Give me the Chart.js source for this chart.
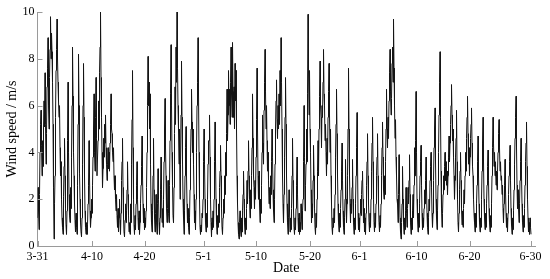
<!DOCTYPE html>
<html><head><meta charset="utf-8">
<script src="https://cdn.jsdelivr.net/npm/chart.js@4"></script>
<style>html,body{margin:0;padding:0;background:#fff}canvas{display:block}</style>
</head><body>
<canvas id="c" width="550" height="279" style="width:550px;height:279px"></canvas>
<script>
// Wind speed (m/s), sampled left to right through the record (3-31 .. 6-30)
const wind1 = [
1.2,2.5,1.5,0.7,2.2,4.0,5.2,5.8,4.3,3.0,4.5,3.4,5.0,6.2,5.1,7.4,5.2,3.5,4.8,6.8,
7.6,8.9,6.0,5.0,7.2,8.4,9.8,8.0,9.1,8.3,7.0,5.2,2.5,0.3,1.8,3.0,5.5,7.5,8.4,9.7,
8.0,7.0,6.2,5.5,6.0,4.2,3.0,3.6,2.0,1.2,0.8,0.5,2.1,3.4,4.6,3.0,1.6,0.9,0.5,1.5,
4.5,7.0,4.0,2.2,1.3,1.0,2.5,1.6,3.8,6.0,8.5,6.4,4.0,3.0,1.8,1.1,0.6,1.4,0.8,0.5,
2.6,5.2,8.2,6.0,3.1,2.0,1.0,0.6,0.4,1.2,3.5,6.0,7.8,5.5,3.0,1.5,0.8,0.5,1.0,0.5,
0.9,1.8,2.6,4.5,3.0,1.5,0.8,1.2,2.0,1.4,2.6,3.8,5.0,6.5,4.0,3.2,5.5,7.2,4.6,3.0,
3.0,4.5,6.2,5.0,7.4,8.5,10.0,7.2,5.5,4.0,2.5,3.3,4.6,3.8,5.2,4.4,5.6,4.2,3.5,2.8,
3.5,4.2,3.3,4.0,3.2,4.4,5.2,6.5,5.0,4.8,4.0,3.6,4.2,3.0,2.4,3.0,2.0,1.5,2.2,1.3,
0.8,1.6,0.6,1.2,2.0,1.1,0.5,1.4,2.8,3.6,4.6,2.5,1.2,0.6,0.4,1.1,1.8,1.0,1.5,2.4,
3.6,2.2,1.3,0.6,1.0,0.5,1.8,1.0,3.5,5.4,7.5,4.2,2.0,0.9,0.5,1.3,0.7,1.8,2.6,3.6
];
const wind2 = [
2.0,1.2,0.7,1.5,0.5,1.0,1.8,2.6,3.4,4.7,3.0,1.8,1.0,1.6,0.7,1.2,0.8,1.5,2.5,4.0,
6.0,8.1,6.0,7.0,5.0,6.5,3.5,1.8,1.0,0.6,1.5,3.0,4.6,2.4,1.2,0.6,1.4,2.2,1.0,0.5,
1.8,3.3,2.0,1.0,0.5,1.2,2.4,3.8,2.2,1.0,1.6,0.8,2.0,3.6,5.0,6.3,4.2,3.0,1.6,1.0,
1.6,2.8,1.4,1.0,2.6,4.5,6.5,8.6,6.0,4.0,2.6,1.3,1.0,2.5,4.8,6.8,5.2,8.5,7.0,10.0,
7.6,6.0,5.0,3.5,5.0,2.0,3.5,5.6,7.9,5.5,3.6,2.0,1.2,0.5,1.5,3.0,4.2,5.1,3.0,1.8,
1.0,1.6,0.8,0.5,1.2,2.4,3.8,5.0,6.7,5.3,4.0,5.0,3.5,2.2,1.0,1.5,0.7,2.0,4.0,6.0,
7.0,8.9,6.5,4.0,2.0,0.8,0.5,0.9,0.6,1.4,1.2,2.0,3.6,5.0,3.5,2.0,1.0,0.6,1.4,0.8,2.0,3.5,4.5,
4.5,5.6,3.8,2.0,1.0,0.4,1.2,0.7,1.5,0.8,2.0,3.6,5.3,3.6,2.0,1.0,0.5,1.3,0.8,1.8,
1.0,2.5,3.2,4.3,3.0,1.6,0.8,0.5,1.2,2.0,1.4,3.0,2.2,4.0,3.0,4.8,6.7,4.5,5.6,7.5,
6.0,6.7,5.2,7.0,8.5,6.5,5.5,8.7,6.6,5.5,6.8,5.0,7.8,6.2,7.5,5.0,3.0,1.8,1.0,0.5
];
const wind3 = [
0.3,1.0,1.5,0.7,0.4,1.2,0.6,1.5,2.2,3.2,2.0,1.0,0.5,1.2,0.7,1.6,2.8,1.8,3.2,4.5,
3.0,2.0,1.2,2.4,1.6,3.0,4.2,6.5,4.6,3.0,2.5,1.6,2.8,2.0,3.8,5.4,7.6,5.0,3.0,2.0,
3.2,1.8,1.0,2.0,1.4,2.6,4.0,5.6,4.4,3.5,5.8,7.0,8.4,6.6,5.0,6.0,4.5,3.2,4.0,2.8,
1.8,2.5,1.6,3.0,2.2,3.6,5.0,3.8,2.4,1.5,1.0,2.0,3.5,5.0,6.2,7.1,5.4,4.6,6.0,5.0,
6.5,5.2,7.5,6.0,8.9,7.0,5.0,3.0,1.8,1.0,2.2,3.8,5.5,7.2,5.2,3.0,1.8,1.0,0.5,1.2,
2.4,1.5,0.6,1.2,0.7,1.6,3.0,4.6,2.8,1.5,0.8,0.5,1.2,0.7,1.6,2.6,3.8,2.2,1.2,0.6,
1.4,0.5,1.0,0.6,1.8,1.2,0.7,1.5,2.0,3.6,6.0,3.8,1.5,2.6,3.5,5.0,3.6,6.5,9.9,7.5,5.6,7.5,
5.0,4.0,2.4,1.0,1.8,1.2,2.8,4.3,3.0,1.6,0.8,0.5,1.4,0.8,2.0,3.2,4.5,3.0,5.0,6.4,
7.9,6.0,5.5,4.2,6.0,5.5,7.0,8.4,6.5,6.0,4.5,5.2,4.0,3.0,4.6,3.5,5.5,6.6,7.8,5.6,
4.0,5.0,3.0,1.8,0.8,0.5,1.2,0.8,1.6,1.0,2.2,3.8,5.2,6.7,4.8,3.0,1.8,1.0,0.6,1.4
];
const wind4 = [
0.8,1.6,2.4,3.2,4.4,2.8,1.5,0.8,0.5,1.2,2.0,3.7,2.0,1.0,1.8,3.0,5.0,7.6,5.0,3.0,
1.8,1.0,2.0,1.4,2.5,3.7,2.0,1.0,0.5,1.2,0.7,1.8,3.0,4.2,5.7,3.6,
1.4,0.7,1.2,0.6,1.4,2.0,1.3,2.2,2.8,3.2,2.0,1.0,1.6,0.6,1.2,0.5,1.4,2.6,3.6,
4.8,3.0,1.8,1.0,0.6,1.4,0.8,2.0,3.2,4.4,5.5,3.6,2.0,1.0,0.6,1.4,0.8,1.8,3.0,3.8,
4.8,3.0,1.8,1.0,0.6,1.3,0.8,1.8,3.0,4.2,5.3,3.8,2.4,2.0,3.0,2.2,3.6,5.0,6.7,5.0,
4.2,5.5,4.6,6.2,7.4,8.4,6.6,5.6,6.3,7.8,8.5,7.0,9.7,7.6,6.0,4.6,5.4,3.8,3.0,2.0,
1.8,1.0,2.2,3.9,2.4,1.2,0.6,0.3,1.0,1.8,3.4,2.0,1.0,0.5,1.2,0.7,1.5,2.5,1.4,0.8,
1.6,2.5,1.8,2.8,3.9,2.2,1.0,0.5,1.2,0.7,1.5,2.2,1.2,2.6,4.2,3.0,4.5,6.6,4.0,2.0,
1.2,0.6,1.4,0.8,1.8,3.0,3.6,4.3,2.6,1.4,0.7,1.2,0.8,1.6,2.4,1.8,2.8,3.8,2.4,1.4,
0.8,0.5,1.2,2.0,1.5,2.8,3.4,4.0,2.5,1.4,0.8,1.4,2.8,4.2,5.0,5.9,3.6,2.0,1.2,0.7
];
const wind5 = [
1.5,2.6,4.0,5.6,7.0,8.3,5.5,3.2,1.6,0.8,1.4,2.2,3.0,2.4,3.4,4.0,2.8,3.6,2.6,3.2,
2.2,3.0,3.8,4.7,3.6,4.4,5.2,6.0,6.9,5.6,4.5,5.0,3.8,3.0,2.0,2.8,3.8,4.6,5.8,3.6,
2.0,1.0,0.6,1.4,2.4,3.2,4.0,2.8,1.6,0.9,1.5,0.8,1.6,2.4,1.8,3.0,4.0,3.2,4.6,5.5,
6.4,4.8,3.5,4.2,3.0,3.8,4.6,5.2,5.9,4.4,3.4,3.0,2.0,1.4,1.0,0.6,1.4,0.8,1.8,2.6,
3.6,4.7,3.0,1.8,1.0,0.6,1.2,0.8,2.0,3.2,4.4,5.5,3.6,2.0,1.2,0.7,1.4,0.8,1.8,2.6,
3.4,4.1,2.8,1.6,1.0,0.6,1.3,0.8,1.8,3.0,4.2,5.5,4.4,3.4,4.0,3.0,3.6,2.6,3.2,2.4,
3.2,4.0,4.8,5.4,4.2,3.2,3.6,2.8,3.0,2.2,2.6,1.6,1.0,1.8,2.6,3.7,2.4,1.4,0.8,1.2,
0.6,1.4,2.2,3.0,3.6,4.3,2.8,1.6,0.9,0.5,1.2,0.7,1.5,2.4,3.5,4.6,5.5,6.4,4.2,2.6,
1.6,2.4,1.6,1.0,1.8,2.8,3.6,4.6,3.0,1.8,1.0,0.6,1.3,0.8,1.6,2.6,3.6,4.4,5.3,3.4,
2.0,1.2,0.6,1.0,0.5,1.2,0.8,0.5
];
// Date tick labels and the sample index each one sits at
const tickLabels = ['3-31','4-10','4-20','5-1','5-10','5-20','6-1','6-10','6-20','6-30'];
const tickSamples = [0,109,214,332,437,545,644,758,864,986];
const yTicks = [0,2,4,6,8,10];

const speeds = [].concat(wind1, wind2, wind3, wind4, wind5);
const points = speeds.map((v, i) => ({x: i, y: v}));

const serif = '"Liberation Serif", "Times New Roman", serif';
const axisGray = '#9a9a9a';

const innerTicks = {
  id: 'innerTicks',
  afterDraw(chart) {
    const {ctx, chartArea: a, scales: {x, y}} = chart;
    ctx.save();
    ctx.strokeStyle = axisGray;
    ctx.lineWidth = 1;
    ctx.beginPath();
    x.ticks.forEach(t => {
      const px = Math.round(x.getPixelForValue(t.value)) + 0.5;
      ctx.moveTo(px, a.bottom); ctx.lineTo(px, a.bottom - 5);
    });
    y.ticks.forEach(t => {
      const py = Math.round(y.getPixelForValue(t.value)) + 0.5;
      ctx.moveTo(a.left, py); ctx.lineTo(a.left + 5, py);
    });
    ctx.stroke();
    ctx.restore();
  }
};

new Chart(document.getElementById('c'), {
  type: 'line',
  data: {datasets: [{data: points, borderColor: '#151515', borderWidth: 1, pointRadius: 0, tension: 0, fill: false}]},
  options: {
    responsive: false, animation: false, devicePixelRatio: 1,
    layout: {padding: {top: 12, right: 15, left: 0, bottom: 0}},
    plugins: {legend: {display: false}, tooltip: {enabled: false}},
    scales: {
      x: {
        type: 'linear', min: 0, max: 995,
        afterBuildTicks(s) { s.ticks = tickSamples.map(v => ({value: v})); },
        afterFit(s) { s.height = 33; },
        grid: {display: true, drawOnChartArea: false, drawTicks: false},
        border: {display: true, color: axisGray, width: 1},
        ticks: {autoSkip: false, maxRotation: 0, padding: 4, color: '#000',
          font: {family: serif, size: 12},
          callback: (v, i) => tickLabels[i]},
        title: {display: true, text: 'Date', color: '#000', font: {family: serif, size: 14}, padding: {top: 0, bottom: 2}}
      },
      y: {
        min: 0, max: 10,
        afterBuildTicks(s) { s.ticks = yTicks.map(v => ({value: v})); },
        afterFit(s) { s.width = 37.5; },
        grid: {display: true, drawOnChartArea: false, drawTicks: false},
        border: {display: true, color: axisGray, width: 1},
        ticks: {padding: 3, color: '#000', font: {family: serif, size: 12}},
        title: {display: true, text: 'Wind speed / m/s', color: '#000', font: {family: serif, size: 14}, padding: {top: 4, bottom: 0}}
      }
    }
  },
  plugins: [innerTicks]
});
</script>
</body></html>
